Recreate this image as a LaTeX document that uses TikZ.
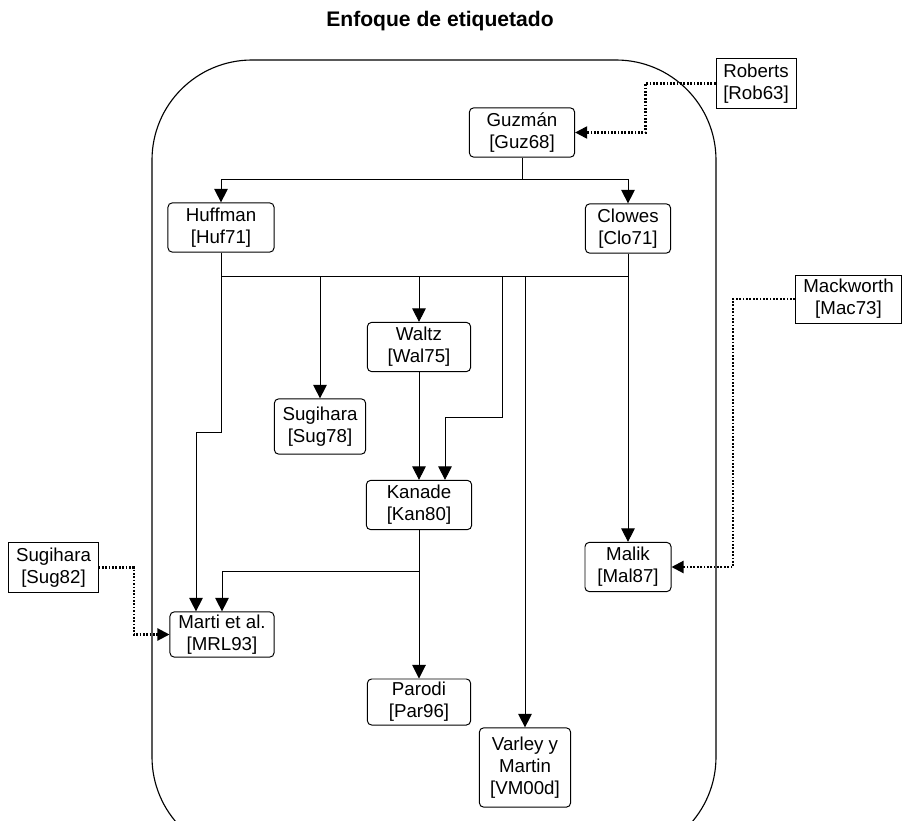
\documentclass[tikz,border=0pt]{standalone}
\usepackage{fontspec}
\setmainfont{Liberation Sans}
\usetikzlibrary{positioning, arrows.meta}
\tikzstyle{paper} = [rectangle, draw, rounded corners=3pt, align=center, inner sep=1pt, line width=0.7pt, minimum height=1.23cm, font=\fontsize{13.3pt}{15.6pt}\selectfont]
\tikzstyle{source} = [rectangle, draw, align=center, inner sep=1pt, line width=0.7pt, minimum height=1.23cm, font=\fontsize{13.3pt}{15.6pt}\selectfont]
\tikzstyle{arrow} = [line width=0.7pt, -{Triangle[length=0.34cm, width=0.34cm]}]
\tikzstyle{link} = [line width=0.7pt]
\tikzstyle{influence} = [line width=1.5pt, dash pattern=on 1.2pt off 1.2pt, -{Triangle[length=0.3cm, width=0.3cm]}]
\tikzstyle{frame} = [line width=0.8pt, rounded corners=2.5cm]
\tikzstyle{heading} = [font=\fontsize{15pt}{18pt}\selectfont\bfseries]

\begin{document}
\begin{tikzpicture}[x=0.025cm, y=-0.025cm]
  \useasboundingbox (0,0) rectangle (902,821);

  % Title and frame
  \node (title) [heading] at (440,21) {Enfoque de etiquetado};
  \draw[frame] (152,60) rectangle (716,857);

  % Works inside the frame
  \node (guzman) [paper, minimum width=2.63cm] at (522,132.5) {Guzmán\\{}[Guz68]};
  \node (huffman) [paper, minimum width=2.65cm] at (221,227.5) {Huffman\\{}[Huf71]};
  \node (clowes) [paper, minimum width=2.13cm] at (628,228.5) {Clowes\\{}[Clo71]};
  \node (waltz) [paper, minimum width=2.58cm] at (419,347) {Waltz\\{}[Wal75]};
  \node (sugihara_78) [paper, minimum width=2.28cm, minimum height=1.38cm] at (320,426.5) {Sugihara\\{}[Sug78]};
  \node (kanade) [paper, minimum width=2.63cm] at (419,505) {Kanade\\{}[Kan80]};
  \node (malik) [paper, minimum width=2.15cm] at (628,567) {Malik\\{}[Mal87]};
  \node (marti) [paper, minimum width=2.6cm, minimum height=1.13cm] at (222,634.5) {Marti et al.\\{}[MRL93]};
  \node (parodi) [paper, minimum width=2.58cm, minimum height=1.15cm] at (419,702) {Parodi\\{}[Par96]};
  \node (varley) [paper, minimum width=2.28cm, minimum height=1.98cm] at (525,767.5) {Varley y\\Martin\\{}[VM00d]};

  % Works outside the frame
  \node (roberts) [source, minimum width=2cm] at (756,83.5) {Roberts\\{}[Rob63]};
  \node (mackworth) [source, minimum width=2.65cm, minimum height=1.2cm] at (848.5,299) {Mackworth\\{}[Mac73]};
  \node (sugihara_82) [source, minimum width=2.23cm] at (53.5,567.5) {Sugihara\\{}[Sug82]};

  % Bus under Huffman and Clowes
  \coordinate (bus) at (0,276);
  \coordinate (kanade_tap) at (502,276);

  % Arrows (main flow)
  \draw[arrow] (guzman.south) -- ++(0,22) -| (huffman.north);
  \draw[arrow] (guzman.south) -- ++(0,22) -| (clowes.north);
  \draw[link] (huffman.south) |- (clowes.south |- bus);
  \draw[arrow] (clowes.south) -- (malik.north);
  \draw[arrow] (huffman.south) -- ++(0,180) -| ([xshift=-0.65cm]marti.north);
  \draw[arrow] (sugihara_78.north |- bus) -- (sugihara_78.north);
  \draw[arrow] (waltz.north |- bus) -- (waltz.north);
  \draw[arrow] (kanade_tap) -- ++(0,141) -| ([xshift=0.65cm]kanade.north);
  \draw[arrow] (varley.north |- bus) -- (varley.north);
  \draw[arrow] (waltz.south) -- (kanade.north);
  \draw[arrow] (kanade.south) -- (parodi.north);
  \draw[arrow] (kanade.south) -- ++(0,41) -| (marti.north);

  % Outside influences (dotted)
  \draw[influence] (roberts.west) -- ++(-70,0) |- (guzman.east);
  \draw[influence] (mackworth.west) -- ++(-62,0) |- (malik.east);
  \draw[influence] (sugihara_82.east) -- ++(35,0) |- (marti.west);

\end{tikzpicture}
\end{document}
